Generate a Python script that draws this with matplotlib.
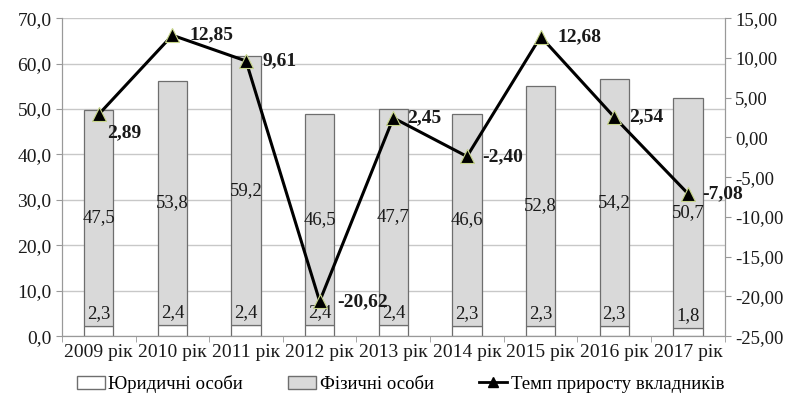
import matplotlib.pyplot as plt
import numpy as np
from matplotlib.lines import Line2D
from matplotlib.patches import Patch

plt.rcParams["font.family"] = ["Liberation Serif", "DejaVu Serif"]

years = ["2009 рік", "2010 рік", "2011 рік", "2012 рік", "2013 рік",
         "2014 рік", "2015 рік", "2016 рік", "2017 рік"]
legal = [2.3, 2.4, 2.4, 2.4, 2.4, 2.3, 2.3, 2.3, 1.8]
natural = [47.5, 53.8, 59.2, 46.5, 47.7, 46.6, 52.8, 54.2, 50.7]
growth = [2.89, 12.85, 9.61, -20.62, 2.45, -2.40, 12.68, 2.54, -7.08]

INK = "#1a1a1a"
GRID = "#c8c8c8"
BAR_EDGE = "#6e6e6e"
GRAY = "#d9d9d9"


def comma(v, nd):
    return f"{v:.{nd}f}".replace(".", ",")


fig = plt.figure(figsize=(7.93, 4.03), dpi=100)
ax = fig.add_axes([0.078, 0.166, 0.836, 0.789])
ax2 = ax.twinx()

x = np.arange(len(years))
w = 0.4
ax.bar(x, legal, w, color="white", edgecolor=BAR_EDGE, linewidth=0.9, zorder=2)
ax.bar(x, natural, w, bottom=legal, color=GRAY, edgecolor=BAR_EDGE, linewidth=0.9, zorder=2)

for xi, l, n in zip(x, legal, natural):
    ax.text(xi, l + 0.8, comma(l, 1), ha="center", va="bottom", fontsize=13.5, color=INK, zorder=3)
    ax.text(xi, l + n / 2, comma(n, 1), ha="center", va="center", fontsize=13.5, color=INK, zorder=3)

ax.set_ylim(0, 70)
ax.set_yticks(np.arange(0, 71, 10))
ax.set_yticklabels([comma(v, 1) for v in np.arange(0, 71, 10)])
ax.set_xlim(-0.5, len(years) - 0.5)
ax.set_xticks(x)
ax.set_xticklabels(years)
ax.set_xticks(np.arange(-0.5, len(years), 1), minor=True)
ax.tick_params(axis="x", which="major", length=0, labelsize=14, pad=6, colors=INK)
ax.tick_params(axis="x", which="minor", length=4, color="#999999")
ax.tick_params(axis="y", labelsize=14, length=4, color="#999999", colors=INK)
ax.yaxis.grid(True, color=GRID, linewidth=1.0, zorder=0)
ax.set_axisbelow(True)

ax2.plot(x, growth, color="black", linewidth=2.2, marker="^", markersize=10,
         markerfacecolor="black", markeredgecolor="#c8d68a", markeredgewidth=0.8, zorder=5)
ax2.set_ylim(-25, 15)
ax2.set_yticks(np.arange(-25, 16, 5))
ax2.set_yticklabels([comma(v, 2) for v in np.arange(-25, 16, 5)])
ax2.tick_params(axis="y", labelsize=13.5, length=4, color="#999999", colors=INK)

offsets = [(6, -7, "top"), (12, 0, "center"), (12, 0, "center"), (13, 0, "center"), (10, 0, "center"),
           (11, 0, "center"), (12, 0, "center"), (11, 0, "center"), (10, 0, "center")]
for xi, g, (dx, dy, va) in zip(x, growth, offsets):
    ax2.annotate(comma(g, 2), (xi, g), xytext=(dx, dy), textcoords="offset points",
                 ha="left", va=va, fontsize=14, fontweight="bold", color=INK, zorder=6)

for a in (ax, ax2):
    a.spines["top"].set_visible(False)
    for s in ("left", "right", "bottom"):
        a.spines[s].set_color("#999999")

handles = [
    Patch(facecolor="white", edgecolor=BAR_EDGE, label="Юридичні особи"),
    Patch(facecolor=GRAY, edgecolor=BAR_EDGE, label="Фізичні особи"),
    Line2D([0], [0], color="black", linewidth=2, marker="^", markersize=7,
           markerfacecolor="black", label="Темп приросту вкладників"),
]
fig.legend(handles=handles, loc="center", bbox_to_anchor=(0.505, 0.048), ncol=3,
           frameon=False, fontsize=13.5, handlelength=1.5, handletextpad=0.2, columnspacing=2.4)

fig.savefig("out.png", dpi=100)
